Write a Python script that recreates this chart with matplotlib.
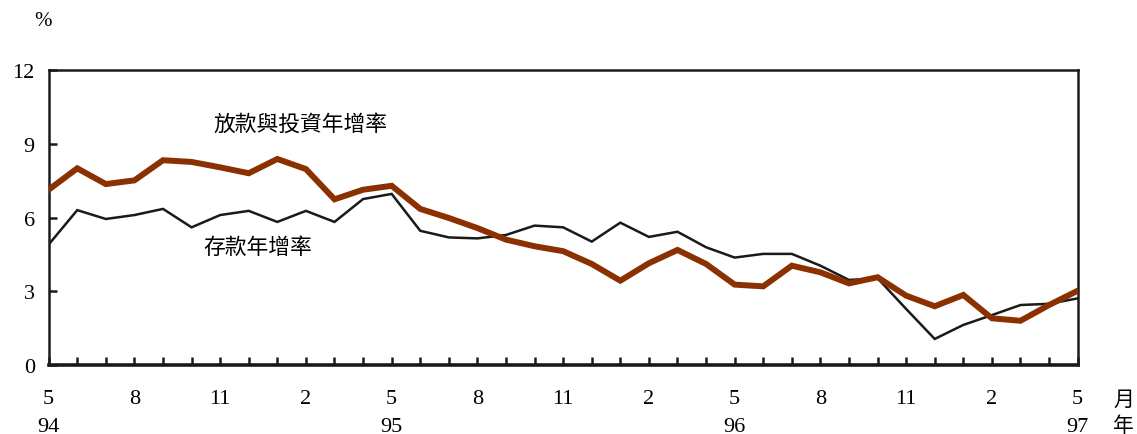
import matplotlib
matplotlib.use("Agg")
import matplotlib.pyplot as plt
import numpy as np

# Monthly data, May 1994 - May 1997
deposits = [4.9, 6.3, 5.94, 6.1, 6.35, 5.6, 6.1, 6.27, 5.82, 6.27, 5.82, 6.75, 6.96,
            5.46, 5.19, 5.15, 5.29, 5.67, 5.6, 5.02, 5.79, 5.21, 5.42, 4.79, 4.37,
            4.52, 4.52, 4.04, 3.46, 3.53, 2.28, 1.06, 1.63, 2.03, 2.44, 2.49, 2.71]
loans = [7.13, 8.0, 7.36, 7.51, 8.33, 8.26, 8.04, 7.8, 8.38, 7.97, 6.74, 7.13, 7.29,
         6.35, 5.98, 5.57, 5.1, 4.83, 4.63, 4.11, 3.43, 4.14, 4.68, 4.11, 3.27,
         3.2, 4.04, 3.77, 3.32, 3.57, 2.82, 2.39, 2.85, 1.9, 1.8, 2.44, 3.02]
month_labels = ["5", "8", "11", "2", "5", "8", "11", "2", "5", "8", "11", "2", "5"]
year_labels = {0: "94", 12: "95", 24: "96", 36: "97"}
y_ticks = [0, 3, 6, 9, 12]

serif = "Liberation Serif"
cjk = ["Noto Sans CJK TC", "DejaVu Sans"]

fig = plt.figure(figsize=(11.37, 4.35), dpi=100)
ax = fig.add_axes([0.0428, 0.1586, 0.9050, 0.6782])

x = np.arange(len(deposits))
ax.plot(x, deposits, color="#1a1a1a", lw=1.8, solid_joinstyle="miter", zorder=3)
ax.plot(x, loans, color="#8B3000", lw=4.3, solid_joinstyle="miter", zorder=4)

ax.set_xlim(0, 36)
ax.set_ylim(0, 12)
ax.set_yticks(y_ticks)
ax.set_yticklabels([str(v) for v in y_ticks], fontfamily=serif, fontsize=16)
ax.set_xticks(np.arange(0, 37))
ax.set_xticklabels([])
ax.tick_params(axis="both", direction="in", length=6, width=1.8, color="#1a1a1a")
ax.tick_params(axis="y", pad=10)
ax.tick_params(axis="x", top=False)

for s in ["left", "top", "right"]:
    ax.spines[s].set_linewidth(1.8)
    ax.spines[s].set_color("#1a1a1a")
ax.spines["bottom"].set_linewidth(2.6)
ax.spines["bottom"].set_color("#1a1a1a")

# Month / year labels
for i, lab in enumerate(month_labels):
    ax.text(i * 3, -1.38, lab, ha="center", va="center", fontfamily=serif,
            fontsize=16, clip_on=False)
for i, lab in year_labels.items():
    ax.text(i, -2.5, lab, ha="center", va="center", fontfamily=serif,
            fontsize=16, clip_on=False)
ax.text(37.6, -1.38, "月", ha="center", va="center", fontfamily=cjk, fontsize=15, clip_on=False)
ax.text(37.6, -2.42, "年", ha="center", va="center", fontfamily=cjk, fontsize=15, clip_on=False)

fig.text(43 / 1137, 1 - 22 / 435, "%", ha="center", va="center", fontfamily=serif, fontsize=15)

ax.text(5.75, 9.8, "放款與投資年增率", ha="left", va="center", fontfamily=cjk, fontsize=15.7)
ax.text(5.4, 4.8, "存款年增率", ha="left", va="center", fontfamily=cjk, fontsize=15.7)

fig.savefig("out.png", dpi=100)
